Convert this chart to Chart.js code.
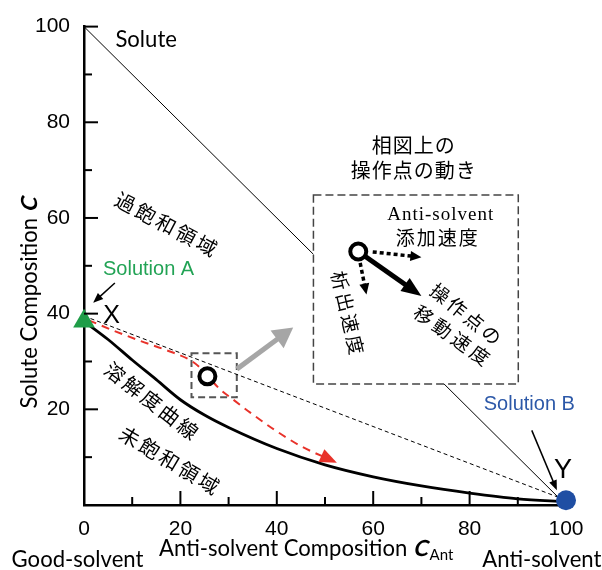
<!DOCTYPE html>
<html><head><meta charset="utf-8">
<script src="https://cdn.jsdelivr.net/npm/chart.js@4.4.0/dist/chart.umd.min.js"></script>
<style>html,body{margin:0;padding:0;background:#fff}#wrap{width:602px;height:570px;position:relative}
#pre{position:absolute;left:-9999px;top:0}</style>
</head><body>
<div id="pre"><span style="font-family:Lato">Good-solvent</span><span style="font-family:Lato;font-weight:bold">C</span><span style="font-family:'Noto Sans CJK JP'">相図</span><span style="font-family:'Liberation Serif'">Anti</span><span style="font-family:'Liberation Sans'">100</span></div>
<div id="wrap"><canvas id="c"></canvas></div>
<script>
// ---- data ----
const xTicks = [0, 20, 40, 60, 80, 100];
const yTicks = [20, 40, 60, 80, 100];
const curveX = [0, 5, 10, 15, 20, 25, 30, 40, 50, 60, 70, 80, 90, 100];
const curveY = [38.4, 34.6, 30.3, 26.2, 22.0, 18.8, 16.2, 11.8, 8.4, 5.9, 4.0, 2.5, 1.3, 0.7];
const pathX = [1, 6, 11.7, 17, 22, 24, 26, 28, 31, 34.5, 39.4, 45, 51.9];
const pathY = [38.6, 36.5, 34.3, 32.4, 30.3, 28.8, 26.6, 24.4, 22.0, 19.3, 15.8, 12.3, 9.1];
const diagX = [0, 100];
const diagY = [100, 0];
const tieX = [0, 100];
const tieY = [39.5, 1];
const solutionA = [0, 38.4];
const solutionB = [100, 1];
const opPoints = [[25.6, 26.9], [56.9, 53.0]];
const smallBox = [22.3, 31.7, 31.7, 22.5];
const insetBox = [47.6, 64.8, 90.1, 25.3];

const arrowsCfg = [
  {from:[6.4,46.4], to:[1.9,42.3], w:1.5, head:10, hw:8, color:'#000'},
  {from:[92.9,15.6], to:[98.1,3.1], w:1.5, head:10, hw:8, color:'#000'},
  {from:[31.7,28.4], to:[43.4,37.1], w:5, head:20, hw:22, color:'#a6a6a6'},
  {from:[56.9,53.0], to:[70.0,43.7], w:5, head:20, hw:16, color:'#000'},
  {from:[59.9,52.9], to:[70.0,51.8], w:3.5, head:11, hw:10, color:'#000', dash:[4,3]},
  {from:[57.3,50.6], to:[58.6,44.0], w:3.5, head:11, hw:10, color:'#000', dash:[4,3]}
];
const CJK = '"Noto Sans CJK JP"';
const notes = [
  {t:'Solute', x:12.9, y:95.8, f:'LAT', c:'#000', b:'alphabetic'},
  {t:'相図上の', x:68.3, y:75.2, f:'20px '+CJK, c:'#000', sp:1},
  {t:'操作点の動き', x:68.3, y:70.0, f:'20px '+CJK, c:'#000', sp:1},
  {t:'過飽和領域', x:17.0, y:58.7, f:'20px '+CJK, c:'#000', a:28, sp:3},
  {t:'Solution A', x:13.4, y:49.2, f:'20px "Liberation Sans"', c:'#22a355'},
  {t:'X', x:5.7, y:39.5, f:'25px "Liberation Sans"', c:'#000'},
  {t:'溶解度曲線', x:14.0, y:21.8, f:'20px '+CJK, c:'#000', a:37.7, sp:3},
  {t:'未飽和領域', x:17.7, y:9.4, f:'20px '+CJK, c:'#000', a:30.8, sp:3},
  {t:'Solution B', x:92.4, y:21.1, f:'20px "Liberation Sans"', c:'#2c58a8'},
  {t:'Y', x:99.4, y:7.3, f:'27px "Liberation Sans"', c:'#000'},
  {t:'Anti-solvent', x:73.9, y:60.6, f:'19px "Liberation Serif"', c:'#000', sp:1},
  {t:'添加速度', x:73.2, y:55.8, f:'19px '+CJK, c:'#000', sp:2},
  {t:'析出速度', x:54.7, y:40.2, f:'19px '+CJK, c:'#000', a:76.7, sp:3},
  {t:'操作点の', x:79.2, y:39.9, f:'19px '+CJK, c:'#000', a:39, sp:3},
  {t:'移動速度', x:76.3, y:35.5, f:'19px '+CJK, c:'#000', a:35.6, sp:4},
  {t:'Good-solvent', x:-1.35, y:-12.9, f:'LAT', c:'#000', b:'alphabetic'},
  {t:'Anti-solvent', x:95.0, y:-12.9, f:'LAT', c:'#000', b:'alphabetic'}
];

const pts = (xs, ys) => xs.map((x, i) => ({x, y: ys[i]}));

function drawArrow(ctx, x1, y1, x2, y2, o) {
  const ang = Math.atan2(y2 - y1, x2 - x1);
  const bx = x2 - Math.cos(ang) * o.head, by = y2 - Math.sin(ang) * o.head;
  ctx.save();
  ctx.strokeStyle = o.color; ctx.fillStyle = o.color; ctx.lineWidth = o.w;
  ctx.setLineDash(o.dash || []);
  ctx.beginPath(); ctx.moveTo(x1, y1);
  ctx.lineTo(bx + Math.cos(ang) * 1, by + Math.sin(ang) * 1); ctx.stroke();
  ctx.setLineDash([]);
  ctx.beginPath(); ctx.moveTo(x2, y2);
  ctx.lineTo(bx - Math.sin(ang) * o.hw / 2, by + Math.cos(ang) * o.hw / 2);
  ctx.lineTo(bx + Math.sin(ang) * o.hw / 2, by - Math.cos(ang) * o.hw / 2);
  ctx.closePath(); ctx.fill();
  ctx.restore();
}

function makeChart() {
  const mctx = document.createElement('canvas').getContext('2d');
  mctx.font = '100px Lato';
  const gw = mctx.measureText('Good-solvent').width;
  const LS = Math.round(13200 / gw * 10) / 10;
  const LAT = LS + 'px Lato';
  const LATB = 'bold ' + LS + 'px Lato';
  const SUB = Math.round(LS * 0.68) + 'px Lato';

  function drawRuns(ctx, parts, x0, base) {
    parts.forEach(p => {
      ctx.font = p.f;
      if (p.it) {
        ctx.save(); ctx.translate(x0, base + (p.dy || 0)); ctx.transform(1, 0, -0.22, 1, 0, 0);
        ctx.fillText(p.t, 0, 0); ctx.restore();
      } else {
        ctx.fillText(p.t, x0, base + (p.dy || 0));
      }
      x0 += p.w;
    });
  }

  const decor = {
    id: 'decor',
    afterDatasetDraw(chart, args) {
      if (args.index !== 0) return;
      const ctx = chart.ctx, sx = chart.scales.x, sy = chart.scales.y;
      const P = (x, y) => [sx.getPixelForValue(x), sy.getPixelForValue(y)];
      const [ax, ay] = P(insetBox[0], insetBox[1]), [bx, by] = P(insetBox[2], insetBox[3]);
      ctx.save();
      ctx.fillStyle = '#fff'; ctx.fillRect(ax, ay, bx - ax, by - ay);
      ctx.strokeStyle = '#444'; ctx.lineWidth = 1.5; ctx.setLineDash([8, 4]);
      ctx.strokeRect(ax, ay, bx - ax, by - ay);
      const [cx, cy] = P(smallBox[0], smallBox[1]), [dx, dy] = P(smallBox[2], smallBox[3]);
      ctx.strokeStyle = '#555'; ctx.lineWidth = 2; ctx.setLineDash([7, 4]);
      ctx.strokeRect(cx, cy, dx - cx, dy - cy);
      ctx.restore();
      arrowsCfg.forEach(a => {
        const [x1, y1] = P(a.from[0], a.from[1]), [x2, y2] = P(a.to[0], a.to[1]);
        drawArrow(ctx, x1, y1, x2, y2, a);
      });
    },
    afterDatasetsDraw(chart) {
      const ctx = chart.ctx, sx = chart.scales.x, sy = chart.scales.y;
      const ca = chart.chartArea;
      const meta = chart.getDatasetMeta(3);
      const els = meta.data, last = els[els.length - 1];
      let fx = last.cp1x, fy = last.cp1y;
      if (fx === undefined || (Math.abs(fx - last.x) < 0.5 && Math.abs(fy - last.y) < 0.5)) { fx = els[els.length - 2].x; fy = els[els.length - 2].y; }
      const ang = Math.atan2(last.y - fy, last.x - fx);
      const hl = 17, hw = 14;
      const tx = last.x + Math.cos(ang) * 3, ty = last.y + Math.sin(ang) * 3;
      const bx = tx - Math.cos(ang) * hl, by = ty - Math.sin(ang) * hl;
      ctx.save(); ctx.fillStyle = '#e8322a'; ctx.beginPath(); ctx.moveTo(tx, ty);
      ctx.lineTo(bx - Math.sin(ang) * hw / 2, by + Math.cos(ang) * hw / 2);
      ctx.lineTo(bx + Math.sin(ang) * hw / 2, by - Math.cos(ang) * hw / 2);
      ctx.closePath(); ctx.fill(); ctx.restore();
      // inner tick marks
      ctx.save(); ctx.strokeStyle = '#000'; ctx.lineWidth = 2;
      for (let v = 10; v <= 100; v += 10) {
        const len = v % 20 === 0 ? 14 : 8;
        const py = sy.getPixelForValue(v);
        ctx.beginPath(); ctx.moveTo(ca.left, py); ctx.lineTo(ca.left + len, py); ctx.stroke();
        if (v < 100) {
          const px = sx.getPixelForValue(v);
          ctx.beginPath(); ctx.moveTo(px, ca.bottom); ctx.lineTo(px, ca.bottom - len); ctx.stroke();
        }
      }
      ctx.restore();
      notes.forEach(n => {
        const px = sx.getPixelForValue(n.x), py = sy.getPixelForValue(n.y);
        ctx.save(); ctx.translate(px, py); ctx.rotate((n.a || 0) * Math.PI / 180);
        ctx.font = n.f === 'LAT' ? LAT : n.f; ctx.fillStyle = n.c; ctx.textAlign = 'center';
        ctx.textBaseline = n.b || 'middle';
        ctx.letterSpacing = (n.sp || 0) + 'px';
        ctx.fillText(n.t, (n.sp || 0) / 2, 0);
        ctx.restore();
      });
      const runs = (parts) => {
        let w = 0; parts.forEach(p => { ctx.font = p.f; p.w = ctx.measureText(p.t).width + (p.it ? 2 : 0); w += p.w; }); return w;
      };
      const xt = [
        {t:'Anti-solvent Composition ', f:LAT, dy:0},
        {t:'C', f:LATB, dy:0, it:true},
        {t:'Ant', f:SUB, dy:4}
      ];
      const xw = runs(xt);
      ctx.save(); ctx.fillStyle = '#000'; ctx.textBaseline = 'alphabetic'; ctx.textAlign = 'left';
      drawRuns(ctx, xt, sx.getPixelForValue(46.1) - xw / 2, sy.getPixelForValue(-10.6));
      ctx.restore();
      const yt = [
        {t:'Solute Composition ', f:LAT},
        {t:'C', f:LATB, it:true}
      ];
      const yw = runs(yt);
      ctx.save(); ctx.translate(sx.getPixelForValue(-9.8), sy.getPixelForValue(42.4)); ctx.rotate(-Math.PI / 2);
      ctx.fillStyle = '#000'; ctx.textBaseline = 'alphabetic'; ctx.textAlign = 'left';
      drawRuns(ctx, yt, -yw / 2, 0);
      ctx.restore();
    }
  };

  new Chart(document.getElementById('c'), {
    type: 'scatter',
    data: {
      datasets: [
        {data: pts(diagX, diagY), showLine: true, borderColor: '#000', borderWidth: 1, pointRadius: 0, order: 10},
        {data: pts(tieX, tieY), showLine: true, borderColor: '#000', borderWidth: 1, borderDash: [4, 3], pointRadius: 0, order: 9},
        {data: pts(curveX, curveY), showLine: true, borderColor: '#000', borderWidth: 2.8, pointRadius: 0, cubicInterpolationMode: 'monotone', order: 8, clip: false},
        {data: pts(pathX, pathY), showLine: true, borderColor: '#e8322a', borderWidth: 2, borderDash: [8, 6], pointRadius: 0, cubicInterpolationMode: 'monotone', order: 7},
        {data: [{x: solutionA[0], y: solutionA[1]}], pointStyle: 'triangle', pointRadius: 12.5, backgroundColor: '#1f9d48', borderWidth: 0, order: 2, clip: false},
        {data: [{x: solutionB[0], y: solutionB[1]}], pointStyle: 'circle', pointRadius: 10, backgroundColor: '#1f4ea3', borderWidth: 0, order: 2, clip: false},
        {data: opPoints.map(p => ({x: p[0], y: p[1]})), pointStyle: 'circle', pointRadius: 8, borderWidth: 4, borderColor: '#000', backgroundColor: '#fff', order: 1, clip: false}
      ]
    },
    options: {
      responsive: true, maintainAspectRatio: false, animation: false,
      layout: {padding: {top: 24, right: 36, left: 0, bottom: 0}},
      plugins: {legend: {display: false}, tooltip: {enabled: false}},
      scales: {
        x: {type: 'linear', min: 0, max: 100, position: 'bottom',
          grid: {display: false, drawTicks: false},
          border: {display: true, color: '#000', width: 2.5},
          afterBuildTicks: s => { s.ticks = xTicks.map(v => ({value: v})); },
          ticks: {padding: 12, color: '#000', font: {family: 'Liberation Sans', size: 21}, maxRotation: 0, autoSkip: false},
          afterFit: s => { s.height = 65; }},
        y: {type: 'linear', min: 0, max: 100, position: 'left',
          grid: {display: false, drawTicks: false},
          border: {display: true, color: '#000', width: 2.5},
          afterBuildTicks: s => { s.ticks = yTicks.map(v => ({value: v})); },
          ticks: {padding: 14, color: '#000', font: {family: 'Liberation Sans', size: 21}, autoSkip: false},
          afterFit: s => { s.width = 84; }}
      }
    },
    plugins: [decor]
  });
}

const fontList = ['21px Lato', 'bold 21px Lato', '20px "Noto Sans CJK JP"', '19px "Liberation Serif"', '21px "Liberation Sans"'];
Promise.all(fontList.map(f => document.fonts.load(f).catch(() => null))).then(makeChart, makeChart);
</script>
</body></html>
